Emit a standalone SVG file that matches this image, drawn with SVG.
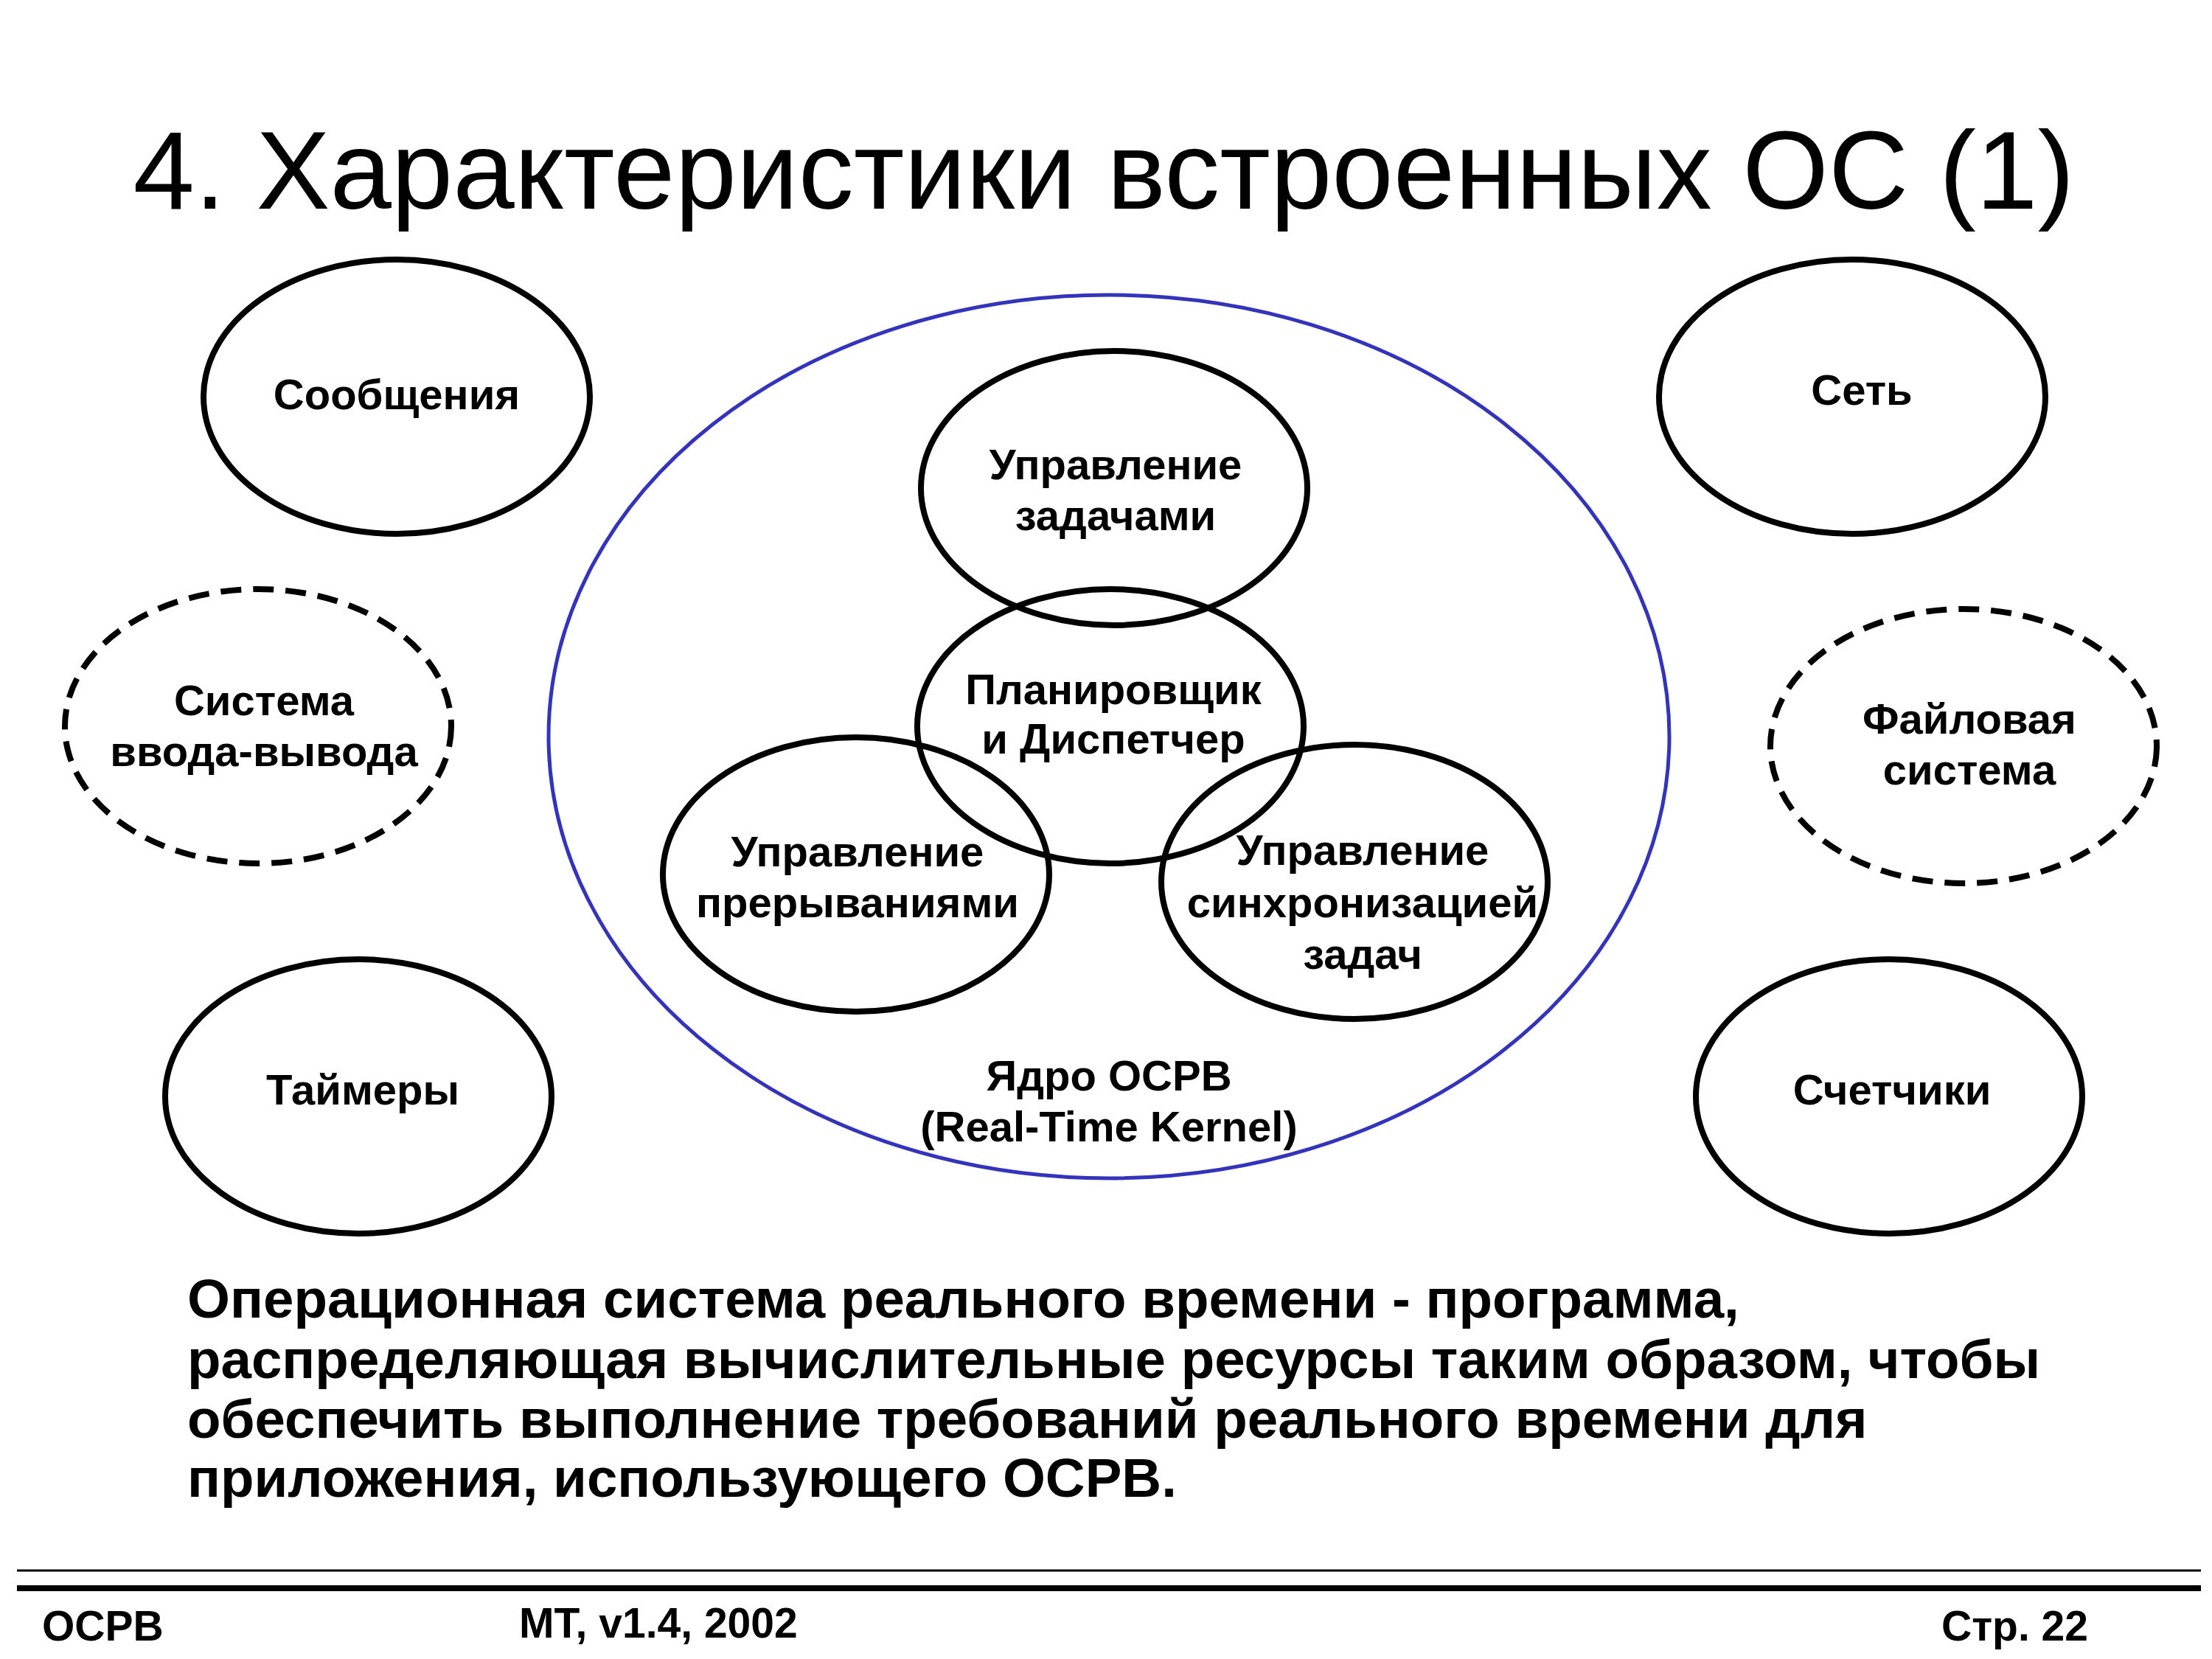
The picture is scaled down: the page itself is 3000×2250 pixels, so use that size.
<svg xmlns="http://www.w3.org/2000/svg" width="3000" height="2250" viewBox="0 0 3000 2250">
<style>
.e{fill:none;stroke:#000;stroke-width:8}
.d{fill:none;stroke:#000;stroke-width:8;stroke-dasharray:28,16}
.t{font-family:"Liberation Sans",Arial,sans-serif;font-weight:bold;font-size:58px;text-anchor:middle;fill:#000}
.p{font-family:"Liberation Sans",Arial,sans-serif;font-weight:bold;font-size:74.5px;fill:#000}
.f{font-family:"Liberation Sans",Arial,sans-serif;font-weight:bold;font-size:57px;fill:#000}
</style>
<rect width="3000" height="2250" fill="#fff"/>
<text x="1497" y="283" text-anchor="middle" font-family="Liberation Sans,Arial,sans-serif" font-size="150">4. Характеристики встроенных ОС (1)</text>
<g id="kernel"><ellipse cx="1504" cy="999" rx="760" ry="599" fill="none" stroke="#3333bb" stroke-width="5"/>
<text class="t" x="1504" y="1479">Ядро ОСРВ</text><text class="t" x="1504" y="1548">(Real-Time Kernel)</text></g>
<g id="msg"><ellipse class="e" cx="538" cy="538" rx="262" ry="186"/><text class="t" x="538" y="555">Сообщения</text></g>
<g id="net"><ellipse class="e" cx="2512" cy="538" rx="262" ry="186"/><text class="t" x="2525" y="549">Сеть</text></g>
<g id="io"><ellipse class="d" cx="350" cy="985" rx="262" ry="186"/><text class="t" x="358" y="970">Система</text><text class="t" x="358" y="1039">ввода-вывода</text></g>
<g id="fs"><ellipse class="d" cx="2663" cy="1012" rx="262" ry="186"/><text class="t" x="2671" y="995">Файловая</text><text class="t" x="2671" y="1064">система</text></g>
<g id="timers"><ellipse class="e" cx="486" cy="1487" rx="262" ry="186"/><text class="t" x="492" y="1498">Таймеры</text></g>
<g id="counters"><ellipse class="e" cx="2562" cy="1487" rx="262" ry="186"/><text class="t" x="2566" y="1498">Счетчики</text></g>
<g id="tasks"><ellipse class="e" cx="1511" cy="662" rx="262" ry="186"/><text class="t" x="1513" y="650">Управление</text><text class="t" x="1513" y="719">задачами</text></g>
<g id="sched"><ellipse class="e" cx="1506" cy="985" rx="262" ry="186"/><text class="t" x="1510" y="955">Планировщик</text><text class="t" x="1510" y="1022">и Диспетчер</text></g>
<g id="irq"><ellipse class="e" cx="1161" cy="1186" rx="262" ry="186"/><text class="t" x="1163" y="1175">Управление</text><text class="t" x="1163" y="1244">прерываниями</text></g>
<g id="sync"><ellipse class="e" cx="1837" cy="1196" rx="262" ry="186"/><text class="t" x="1848" y="1173">Управление</text><text class="t" x="1848" y="1244">синхронизацией</text><text class="t" x="1848" y="1314">задач</text></g>
<g id="connectors"></g>
<text class="p" x="254" y="1787">Операционная система реального времени - программа,</text>
<text class="p" x="254" y="1869">распределяющая вычислительные ресурсы таким образом, чтобы</text>
<text class="p" x="254" y="1950">обеспечить выполнение требований реального времени для</text>
<text class="p" x="254" y="2030">приложения, использующего ОСРВ.</text>
<line x1="23" y1="2130" x2="2985" y2="2130" stroke="#000" stroke-width="3"/>
<line x1="23" y1="2154" x2="2985" y2="2154" stroke="#000" stroke-width="8"/>
<text class="f" x="57" y="2225">ОСРВ</text>
<text class="f" x="704" y="2221">МТ, v1.4, 2002</text>
<text class="f" x="2832" y="2225" text-anchor="end">Стр. 22</text>
</svg>
